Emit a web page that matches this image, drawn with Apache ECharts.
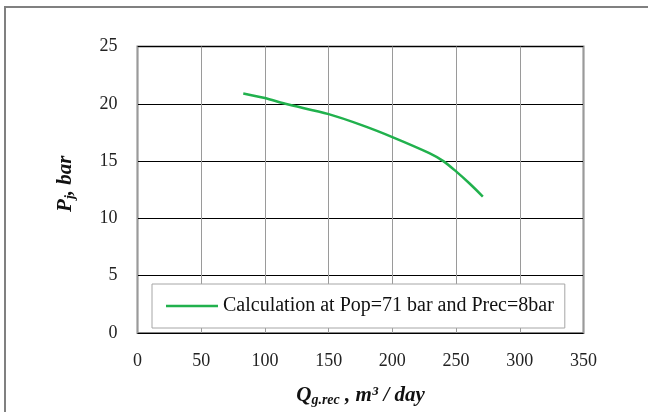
<!DOCTYPE html>
<html>
<head>
<meta charset="utf-8">
<script src="https://cdn.jsdelivr.net/npm/echarts@6/dist/echarts.min.js"></script>
<style>
  html, body { margin: 0; padding: 0; background: #fff; }
  #chart { width: 648px; height: 412px; }
</style>
</head>
<body>
<div id="chart"></div>
<script>
// values
const qRec = [83, 100, 116, 150, 177, 200, 229, 240, 250, 261, 271];
const pJ = [20.9, 20.5, 20.0, 19.1, 18.1, 17.1, 15.7, 15.0, 14.1, 13.0, 11.9];
const seriesName = 'Calculation at Pop=71 bar and Prec=8bar';

const serif = 'Liberation Serif';

const titleRich = {
  b: { fontFamily: serif, fontSize: 21, fontWeight: 'bold', fontStyle: 'italic', color: '#111' },
  sub: { fontFamily: serif, fontSize: 14, fontWeight: 'bold', fontStyle: 'italic', color: '#111', padding: [9, 0, 0, 0] }
};

const chart = echarts.init(document.getElementById('chart'));
chart.setOption({
  animation: false,
  graphic: [
    {
      type: 'rect',
      shape: { x: 5, y: 7, width: 700, height: 500 },
      style: { fill: 'none', stroke: '#808080', lineWidth: 2 },
      z: -1
    }
  ],
  grid: {
    left: 137.5,
    right: 64.5,
    top: 46.5,
    bottom: 77,
    show: true,
    borderColor: '#858585',
    borderWidth: 2,
    backgroundColor: '#fff'
  },
  legend: {
    left: 152,
    top: 284,
    orient: 'horizontal',
    padding: [12, 11, 12, 14],
    icon: 'rect',
    itemWidth: 52,
    itemHeight: 2.5,
    itemGap: 4,
    backgroundColor: '#fff',
    borderColor: '#a6a6a6',
    borderWidth: 1,
    textStyle: { fontFamily: serif, fontSize: 20, color: '#111' },
    data: [seriesName]
  },
  xAxis: {
    type: 'value',
    min: 0,
    max: 350,
    interval: 50,
    axisLine: { show: false },
    axisTick: { show: false },
    axisLabel: { fontFamily: serif, fontSize: 18, color: '#222', margin: 19 },
    splitLine: { show: true, lineStyle: { color: '#9a9a9a', width: 1 } },
    name: '{b|Q}{sub|g.rec}{b| , m³ / day}',
    nameLocation: 'middle',
    nameGap: 51,
    nameTextStyle: { rich: titleRich }
  },
  yAxis: {
    type: 'value',
    min: 0,
    max: 25,
    interval: 5,
    axisLine: { show: false },
    axisTick: { show: false },
    axisLabel: { fontFamily: serif, fontSize: 18, color: '#222', margin: 20 },
    splitLine: { show: true, lineStyle: { color: '#000', width: 1 } },
    name: '{b|P}{sub|j}{b|, bar}',
    nameLocation: 'middle',
    nameGap: 60,
    nameTextStyle: {
      padding: [0, 0, 0, 12],
      rich: titleRich
    }
  },
  series: [
    {
      name: seriesName,
      type: 'line',
      smooth: 0.3,
      symbol: 'none',
      lineStyle: { color: '#21b14d', width: 2.5 },
      itemStyle: { color: '#21b14d' },
      data: qRec.map((q, i) => [q, pJ[i]])
    }
  ]
});
</script>
</body>
</html>
